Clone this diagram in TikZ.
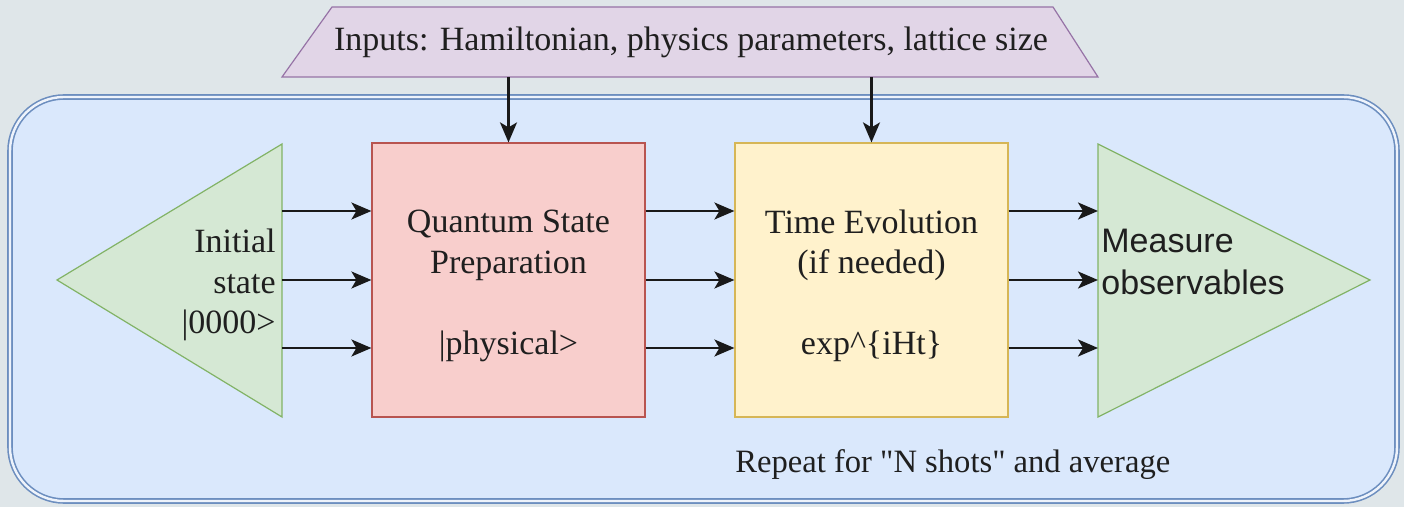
\documentclass[tikz,border=0pt]{standalone}
\usepackage{fontspec}
\setmainfont{Liberation Serif}
\newfontfamily\plainserif{Liberation Serif}
\newfontfamily\measfont{Liberation Sans}
\usepackage{tikz}
\usetikzlibrary{arrows.meta,positioning,calc}
\definecolor{bgcol}{HTML}{DFE6E9}
\definecolor{framefill}{HTML}{DAE8FC}
\definecolor{frameline}{HTML}{6C8EBF}
\definecolor{framegap}{HTML}{EEF3FB}
\definecolor{inpfill}{HTML}{E1D5E7}
\definecolor{inpline}{HTML}{9673A6}
\definecolor{greenfill}{HTML}{D5E8D4}
\definecolor{greenline}{HTML}{82B366}
\definecolor{prepfill}{HTML}{F8CECC}
\definecolor{prepline}{HTML}{B85450}
\definecolor{evolfill}{HTML}{FFF2CC}
\definecolor{evolline}{HTML}{D6B656}

\begin{document}
\begin{tikzpicture}[
  x=0.5pt, y=-0.5pt,
  every node/.style={font=\fontsize{17pt}{20.2pt}\selectfont, text=black!88},
  blk/.style={rectangle, line width=0.6pt, minimum width=136.5pt, minimum height=137pt,
              inner sep=0pt},
  tri/.style={fill=greenfill, draw=greenline, line width=0.6pt},
  frame/.style={fill=framefill, draw=frameline, line width=0.8pt, double=framegap,
                double distance=1.2pt, rounded corners=27pt},
  ww/.style={-{Stealth[length=10pt, width=8.5pt, inset=2.5pt]}, line width=1.1pt, black!90},
  lbl/.style={inner sep=0pt},
]
\fill[bgcol] (0,0) rectangle (1404,507);
\useasboundingbox (0,0) rectangle (1404,507);
% ---------------- repeat frame ----------------
\draw[frame] (10,97) rectangle (1397,501);
\node[lbl, anchor=base west, font=\plainserif\fontsize{16.3pt}{20pt}\selectfont] (rep)
     at (735,473) {Repeat for "N shots" and average};
% ---------------- inputs ----------------
\draw[fill=inpfill, draw=inpline, line width=0.6pt]
  (282,77) -- (332,7) -- (1053,7) -- (1098,77) -- cycle;
\node[lbl] (inp) at (691,42) {Inputs: Hamiltonian, physics parameters, lattice size};
\coordinate (inpbase) at (691,77);
% ---------------- initial state ----------------
\draw[tri] (282,144) coordinate (initT) -- (57,280) -- (282,417) -- cycle;
\node[lbl, anchor=east, align=right] (initlbl) at (276,285) {Initial\\state\\|0000>};
% ---------------- state preparation ----------------
\node[blk, fill=prepfill, draw=prepline] (prep) at (508.5,280) {};
\node[lbl, align=center] (preptxt) at ([yshift=-3pt]prep.center)
     {Quantum State\\Preparation\\[20.2pt]|physical>};
% ---------------- time evolution ----------------
\node[blk, fill=evolfill, draw=evolline] (evol) at (871.5,280) {};
\node[lbl, align=center] (evoltxt) at ([yshift=-3pt]evol.center)
     {Time Evolution\\(if needed)\\[20.2pt]exp\textasciicircum\{iHt\}};
% ---------------- measurement ----------------
\draw[tri] (1098,144) coordinate (measT) -- (1370,280) -- (1098,417) -- cycle;
\node[lbl, anchor=west, align=left, font=\measfont\fontsize{17pt}{21pt}\selectfont]
     (measlbl) at (1101,262) {Measure\\observables};
% ---------------- wires ----------------
\foreach \y in {211,280,348} {
  \draw[ww] (initT |- 0,\y) -- (prep.west |- 0,\y);
  \draw[ww] (prep.east |- 0,\y) -- (evol.west |- 0,\y);
  \draw[ww] (evol.east |- 0,\y) -- (measT |- 0,\y);
}
\draw[ww] (prep.north |- inpbase) -- (prep.north);
\draw[ww] (evol.north |- inpbase) -- (evol.north);
\end{tikzpicture}
\end{document}
